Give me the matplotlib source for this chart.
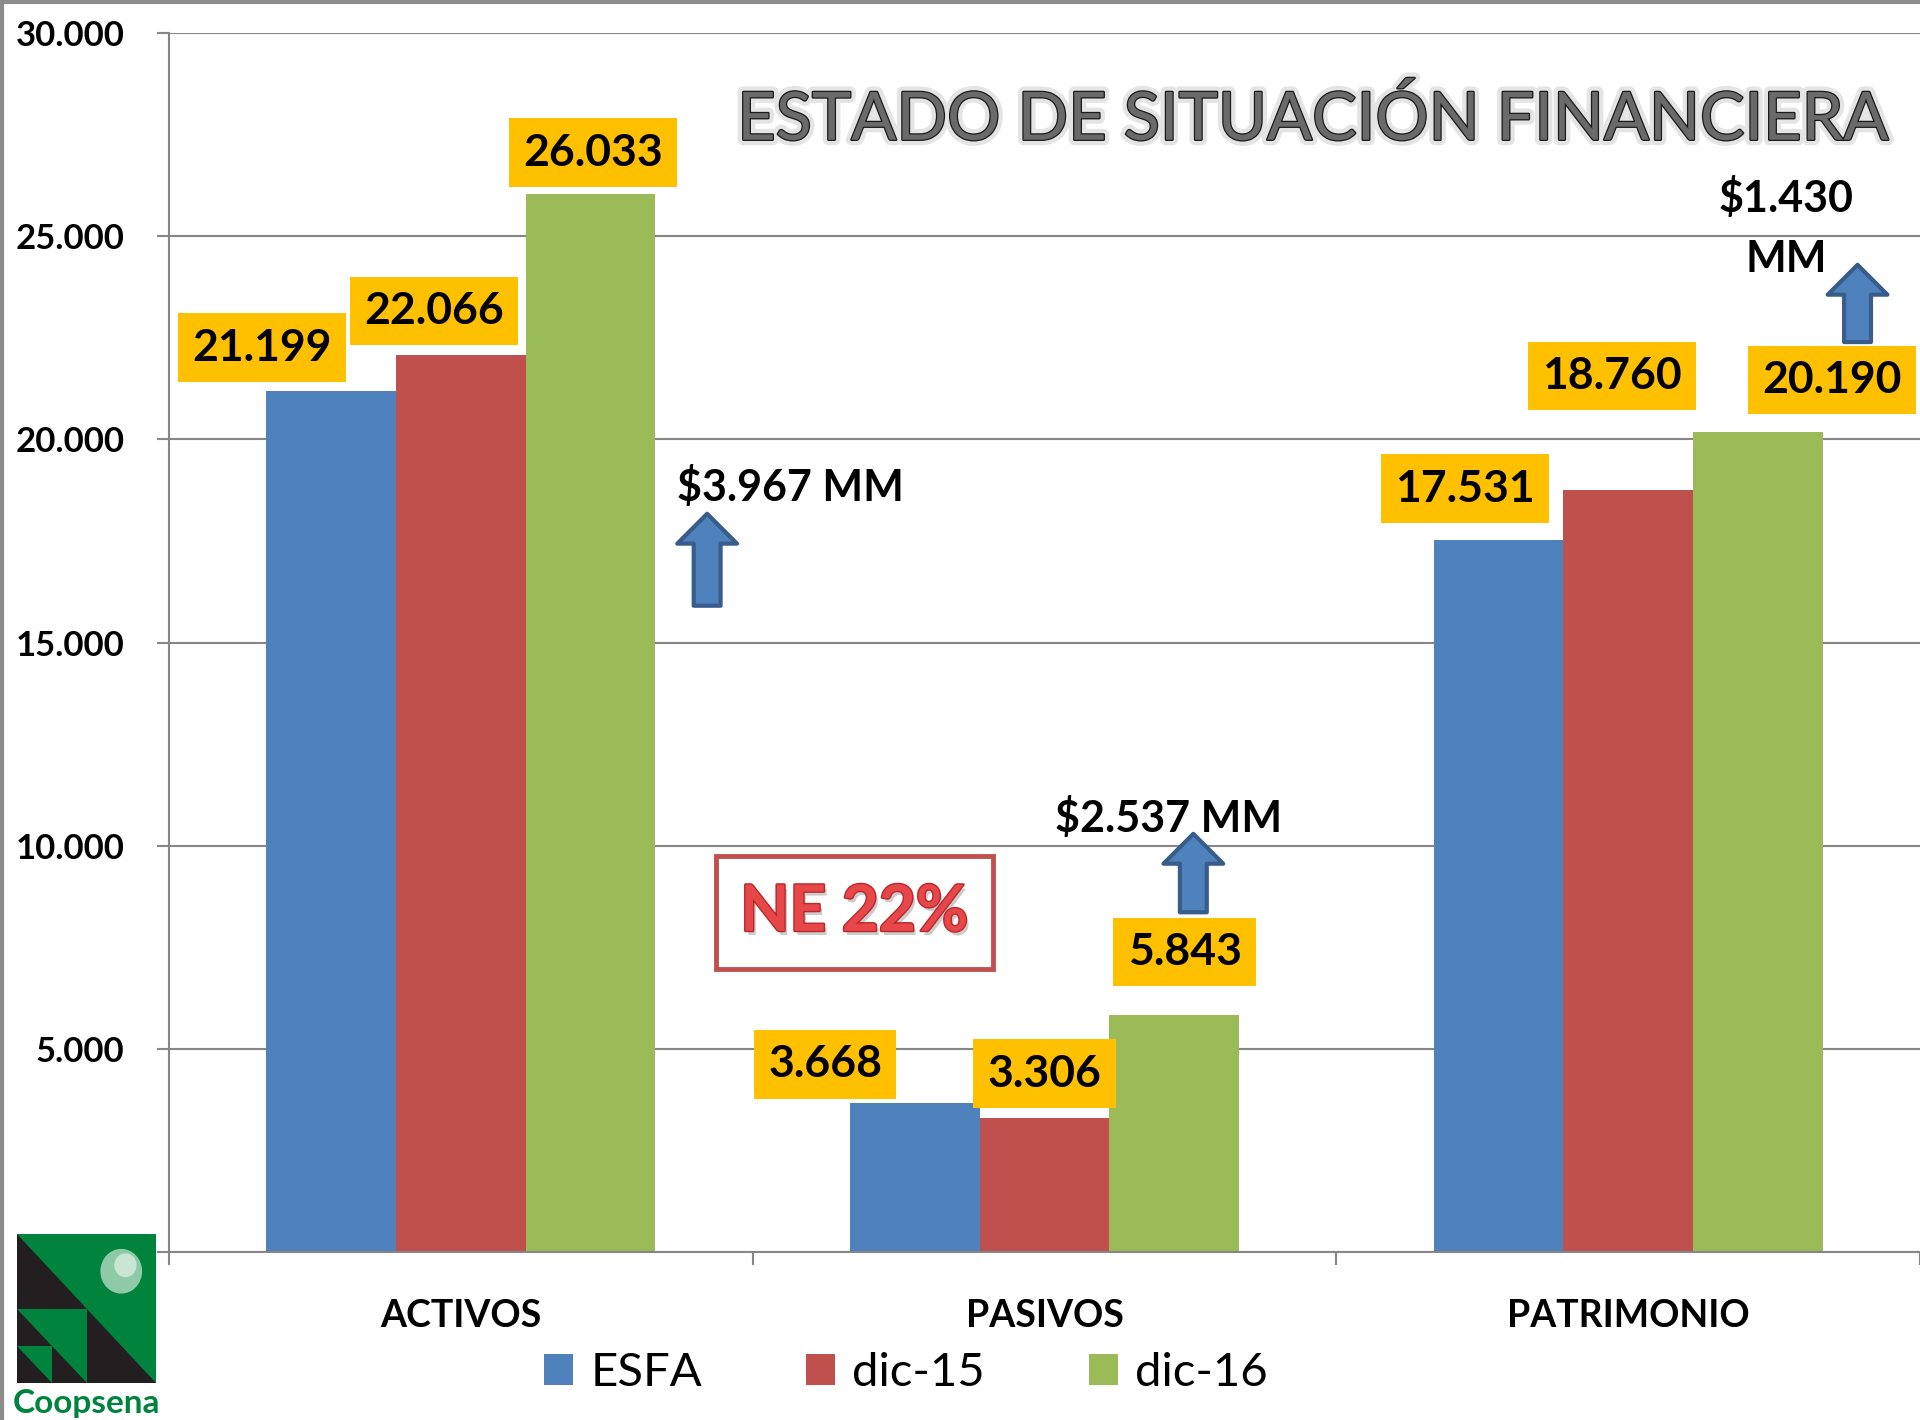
import numpy as np
import matplotlib
matplotlib.use("Agg")
import matplotlib.pyplot as plt
import matplotlib.patheffects as pe
from matplotlib.patches import Rectangle, Polygon, Circle

plt.rcParams["font.family"] = ["Lato", "DejaVu Sans"]

categories = ["ACTIVOS", "PASIVOS", "PATRIMONIO"]
series = ["ESFA", "dic-15", "dic-16"]
esfa = [21199, 3668, 17531]
dic15 = [22066, 3306, 18760]
dic16 = [26033, 5843, 20190]
ne_label = "NE 22%"
title = "ESTADO DE SITUACIÓN FINANCIERA"

colors = ["#4F81BD", "#C0504D", "#9BBB59"]
yellow = "#FFC000"

# label offsets (dx in category units, dy in data units) per series/category
label_off = [
    [(-0.119, 1060), (-0.154, 950), (-0.058, 1256)],
    [(-0.046, 1097), (0.0, 1085), (-0.028, 2804)],
    [(0.005, 1024), (0.018, 1536), (0.127, 1268)],
]
# arrow: (x offset from category, tip offset above dic-16 bar, length); text pos
arrow_cfg = [
    (0.422, -7865, 2263),
    (0.255, 4448, 1931),
    (0.393, 4105, 1901),
]
arrow_txt = [(0.370, 18832, "left"), (1.213, 10684, "center"), (2.271, 25200, "center")]


def fmt(v):
    return f"{v:,}".replace(",", ".")


fig = plt.figure(figsize=(19.2, 14.2), dpi=100)
ax = fig.add_axes([169 / 1920, 1 - 1252 / 1420, 1751 / 1920, 1219 / 1420])

x = np.arange(len(categories))
w = 0.222
data = [esfa, dic15, dic16]
for j, vals in enumerate(data):
    ax.bar(x + (j - 1) * w, vals, width=w, color=colors[j], label=series[j], zorder=2)
    for i, v in enumerate(vals):
        dx, dy = label_off[j][i]
        ax.text(x[i] + (j - 1) * w + dx, v + dy, fmt(v), ha="center", va="center",
                fontsize=32, fontweight="bold", color="black", zorder=4,
                bbox=dict(boxstyle="square,pad=0.32", fc=yellow, ec="none"))

# increase arrows dic-15 -> dic-16
for i in range(3):
    inc = dic16[i] - dic15[i]
    ox, tip_off, length = arrow_cfg[i]
    tip = dic16[i] + tip_off
    ax.annotate("", xy=(x[i] + ox, tip), xytext=(x[i] + ox, tip - length),
                arrowprops=dict(arrowstyle="simple,head_length=0.5,head_width=1,tail_width=0.45",
                                mutation_scale=43, fc="#4F81BD", ec="#385D8A", lw=3,
                                shrinkA=0, shrinkB=0), zorder=5)
    tx, ty, ha = arrow_txt[i]
    txt = f"${fmt(inc)} MM" if i < 2 else f"${fmt(inc)}\nMM"
    ax.text(tx, ty, txt, ha=ha, va="center", fontsize=31, fontweight="bold",
            linespacing=1.6, zorder=6)

# NE box
ax.add_patch(Rectangle((0.674 - 0.237, 8360 - 1389), 0.474, 2777, fill=False,
                       ec="#C0504D", lw=3.5, zorder=6))
ax.text(0.674, 8360, ne_label, ha="center", va="center", fontsize=46,
        fontweight="bold", color="#E8474A", zorder=7,
        path_effects=[pe.SimplePatchShadow(offset=(2, -3), shadow_rgbFace="#999999", alpha=0.5),
                      pe.Stroke(linewidth=2, foreground="#B8282B"), pe.Normal()])

ax.set_xlim(-0.5, 2.5)
ax.set_ylim(0, 30000)
ax.set_yticks(np.arange(0, 30001, 5000))
ax.set_yticklabels([fmt(v) for v in range(0, 30001, 5000)], fontsize=25, fontweight="bold")
ax.set_xticks(x)
ax.set_xticklabels(categories, fontsize=27, fontweight="bold")
ax.set_xticks([-0.5, 0.5, 1.5, 2.5], minor=True)
ax.tick_params(axis="x", which="major", length=0, pad=34)
ax.tick_params(axis="x", which="minor", length=9, width=1.5, color="#868686")
ax.tick_params(axis="y", length=9, width=1.5, color="#868686", pad=23)
ax.grid(axis="y", color="#868686", lw=1.5, zorder=0)
for s in ["top", "right"]:
    ax.spines[s].set_visible(False)
for s in ["left", "bottom"]:
    ax.spines[s].set_color("#868686")
    ax.spines[s].set_linewidth(1.5)
ax.set_axisbelow(True)

fig.text(1313 / 1920, 1 - 120 / 1420, title, ha="center", va="center", fontsize=48,
         color="#6a6a6a",
         path_effects=[pe.Stroke(linewidth=8, foreground="#e4e4e4"),
                       pe.Stroke(linewidth=1.8, foreground="#1a1a1a"), pe.Normal()])

leg = fig.legend(loc="center", bbox_to_anchor=(906 / 1920, 1 - 1373 / 1420), ncol=3,
                 frameon=False, fontsize=34, handlelength=0.62, handleheight=0.62,
                 handletextpad=0.36, columnspacing=2.2)

# figure border (left/top)
fig.add_artist(plt.Line2D([0.001, 0.001], [0, 1], color="#8c8c8c", lw=3))
fig.add_artist(plt.Line2D([0, 1], [0.9985, 0.9985], color="#8c8c8c", lw=3))

# Coopsena logo
lax = fig.add_axes([17 / 1920, 1 - 1383 / 1420, 139 / 1920, 149 / 1420])
lax.set_xlim(0, 1)
lax.set_ylim(1, 0)
lax.axis("off")
green = "#00843D"
dark = "#231F20"
lax.add_patch(Rectangle((0, 0), 1, 1, fc=green, ec="none"))
lax.add_patch(Polygon([(0, 0), (1, 1), (0, 1)], fc=dark, ec="none"))
lax.add_patch(Polygon([(0, 0.5), (0.5, 0.5), (0.5, 1)], fc=green, ec="none"))
lax.add_patch(Polygon([(0, 0.75), (0.25, 0.75), (0.25, 1)], fc=green, ec="none"))
lax.add_patch(Circle((0.75, 0.25), 0.15, fc="#8fcaa6", ec="none"))
lax.add_patch(Circle((0.78, 0.21), 0.08, fc="#d8eee0", ec="none", alpha=0.8))
fig.text(87 / 1920, 1 - 1403 / 1420, "Coopsena", ha="center", va="center",
         fontsize=24, fontweight="bold", color=green)

fig.savefig("out.png", dpi=100, facecolor="white")
